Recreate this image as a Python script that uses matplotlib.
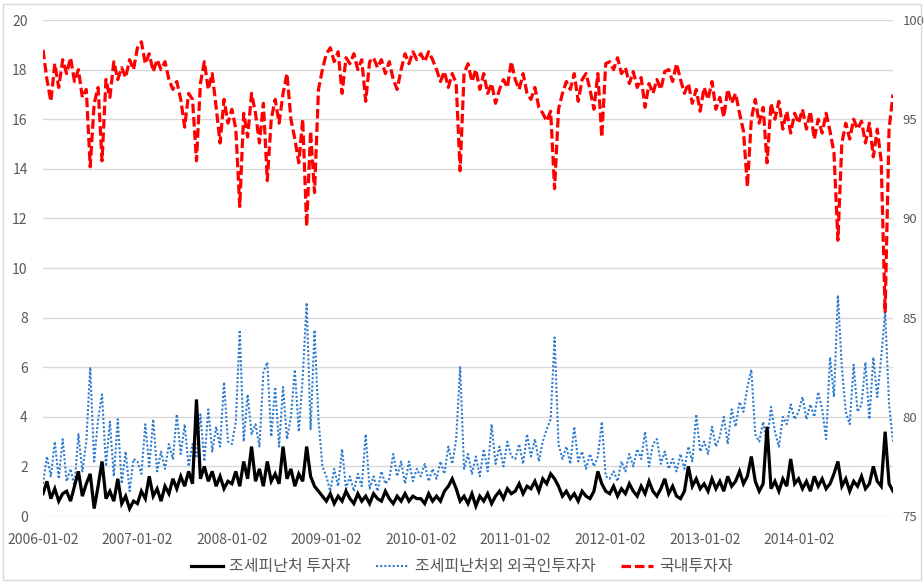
import pandas as pd
import matplotlib
matplotlib.use("Agg")
import matplotlib.pyplot as plt
import matplotlib.dates as mdates
from matplotlib.lines import Line2D
from matplotlib.patches import Rectangle

plt.rcParams['font.family'] = ['Noto Sans CJK KR', 'DejaVu Sans']

# semi-monthly readings, 2006-01-02 .. 2014-12-30 (24 per year, 25 in 2014)
dates = pd.date_range('2006-01-02', '2014-12-30', periods=217)

labels = ['조세피난처 투자자', '조세피난처외 외국인투자자', '국내투자자']

# 조세피난처 투자자 (left axis)
haven = [
    0.9, 1.4, 0.7, 1.1, 0.6, 0.9, 1.0, 0.6, 1.2, 1.8, 0.8, 1.3, 1.7, 0.3, 1.2, 2.2, 0.7, 1.0, 0.6, 1.5, 0.5, 0.8, 0.3, 0.6,
    0.5, 1.0, 0.7, 1.6, 0.8, 1.1, 0.6, 1.2, 0.9, 1.5, 1.1, 1.6, 1.2, 1.8, 1.3, 4.7, 1.5, 2.0, 1.4, 1.8, 1.2, 1.6, 1.1, 1.4,
    1.3, 1.8, 1.2, 2.2, 1.5, 2.8, 1.4, 1.9, 1.2, 2.2, 1.4, 1.7, 1.3, 2.8, 1.5, 1.9, 1.2, 1.7, 1.4, 2.8, 1.6, 1.2, 1.0, 0.8,
    0.6, 0.9, 0.5, 0.8, 0.6, 1.0, 0.7, 0.5, 0.9, 0.6, 0.8, 0.5, 0.9, 0.7, 0.6, 1.0, 0.7, 0.5, 0.8, 0.6, 0.9, 0.6, 0.8, 0.7,
    0.7, 0.5, 0.9, 0.6, 0.8, 0.6, 1.0, 1.2, 1.5, 1.1, 0.6, 0.8, 0.5, 0.9, 0.4, 0.8, 0.6, 0.9, 0.5, 0.8, 1.0, 0.7, 1.1, 0.9,
    1.0, 1.3, 0.9, 1.2, 1.1, 1.4, 1.0, 1.5, 1.3, 1.7, 1.5, 1.2, 0.8, 1.0, 0.7, 0.9, 0.6, 1.0, 0.8, 0.7, 1.0, 1.8, 1.3, 1.0,
    0.9, 1.2, 0.8, 1.1, 0.9, 1.3, 1.0, 0.8, 1.2, 0.9, 1.4, 1.0, 0.8, 1.1, 1.5, 0.9, 1.2, 0.8, 0.7, 1.0, 2.0, 1.2, 1.5, 1.1,
    1.3, 1.0, 1.5, 1.1, 1.4, 1.0, 1.6, 1.2, 1.4, 1.8, 1.3, 1.6, 2.4, 1.4, 1.0, 1.3, 3.6, 1.1, 1.4, 1.0, 1.5, 1.2, 2.3, 1.3,
    1.5, 1.1, 1.4, 1.0, 1.6, 1.2, 1.5, 1.1, 1.3, 1.7, 2.2, 1.2, 1.5, 1.0, 1.4, 1.2, 1.6, 1.1, 1.3, 2.0, 1.4, 1.2, 3.4, 1.3, 1.0,
]

# 조세피난처외 외국인투자자 (left axis)
foreign = [
    1.3, 2.4, 1.6, 3.0, 1.5, 3.1, 1.4, 1.9, 1.2, 3.3, 1.8, 3.0, 6.0, 2.2, 3.9, 4.9, 2.0, 3.8, 1.6, 3.9, 1.3, 2.6, 1.0, 2.3,
    2.2, 1.7, 3.7, 2.0, 3.9, 1.8, 2.6, 1.9, 2.9, 2.3, 4.1, 2.5, 3.7, 2.0, 2.9, 2.4, 4.1, 2.2, 4.3, 2.6, 3.6, 2.8, 5.4, 3.0,
    2.9, 3.8, 7.5, 3.0, 4.9, 3.3, 3.7, 2.8, 5.8, 6.2, 3.2, 5.2, 2.8, 5.2, 3.1, 4.0, 5.9, 3.4, 5.6, 8.6, 3.5, 7.5, 3.9, 2.0,
    1.6, 1.0, 1.9, 1.2, 2.7, 1.1, 1.6, 1.0, 1.7, 1.2, 3.3, 1.1, 1.6, 1.0, 1.8, 1.3, 1.5, 2.5, 1.6, 2.2, 1.3, 2.2, 1.4, 1.9,
    1.6, 2.1, 1.4, 1.9, 1.5, 2.2, 1.7, 2.8, 2.1, 3.1, 6.0, 1.9, 2.5, 1.7, 2.4, 1.6, 2.7, 1.8, 3.7, 2.1, 2.8, 2.0, 3.0, 2.4,
    2.3, 2.9, 2.1, 3.3, 2.4, 3.1, 2.2, 3.0, 3.5, 3.9, 7.2, 2.9, 2.3, 2.8, 2.1, 3.6, 2.2, 2.6, 1.9, 2.5, 2.0, 2.4, 3.8, 1.6,
    1.5, 1.8, 1.4, 2.2, 1.8, 2.5, 2.0, 2.7, 2.3, 3.4, 2.0, 2.9, 3.1, 2.1, 2.6, 1.9, 2.3, 1.8, 2.5, 1.9, 2.8, 2.2, 4.1, 2.6,
    3.0, 2.5, 3.6, 2.8, 3.2, 4.0, 2.9, 4.3, 3.6, 4.6, 4.2, 5.2, 5.9, 3.3, 3.0, 3.8, 2.9, 4.4, 3.4, 2.8, 4.0, 3.7, 4.5, 3.9,
    4.2, 4.8, 3.9, 4.5, 4.0, 5.0, 4.3, 3.1, 6.4, 4.8, 8.9, 6.0, 4.2, 3.7, 6.1, 4.2, 4.5, 6.2, 3.9, 6.4, 4.8, 6.4, 8.2, 4.5, 3.0,
]

# 국내투자자 (right axis)
domestic = [
    98.5, 97.0, 95.9, 97.8, 96.6, 98.0, 97.3, 98.1, 96.9, 97.5, 96.1, 96.5, 92.6, 95.8, 96.6, 92.9, 97.0, 96.1, 97.9, 97.0, 97.6, 97.1, 98.0, 97.5,
    98.6, 98.9, 97.8, 98.3, 97.4, 98.0, 97.5, 97.9, 97.0, 96.5, 96.9, 96.0, 94.6, 96.3, 96.0, 92.9, 96.8, 97.9, 96.5, 97.3, 95.6, 93.8, 96.0, 94.8,
    95.5, 94.5, 90.6, 95.3, 94.1, 96.3, 95.3, 93.8, 95.8, 91.9, 95.0, 96.0, 94.8, 96.3, 97.3, 95.0, 94.0, 92.8, 95.0, 89.6, 94.4, 91.3, 96.5, 97.5,
    98.3, 98.6, 97.9, 98.4, 96.3, 98.1, 97.8, 98.3, 97.5, 98.0, 95.9, 97.9, 98.1, 97.6, 98.0, 97.3, 97.9, 97.0, 96.5, 97.5, 98.3, 97.8, 98.4, 98.0,
    98.3, 97.9, 98.4, 98.0, 97.5, 96.9, 97.4, 96.6, 97.3, 96.8, 92.4, 97.3, 97.8, 96.9, 97.5, 96.5, 97.3, 96.3, 96.8, 95.8, 96.5, 97.0, 96.6, 97.9,
    97.0, 96.5, 97.3, 96.3, 96.0, 96.6, 95.6, 95.3, 94.9, 95.4, 91.5, 95.5, 96.3, 96.9, 96.5, 97.3, 95.9, 97.0, 97.3, 96.5, 95.5, 97.3, 94.1, 97.8,
    97.9, 97.5, 98.1, 97.3, 97.6, 96.8, 97.4, 96.6, 97.1, 95.6, 96.8, 96.3, 97.0, 96.5, 97.4, 97.5, 96.9, 97.8, 97.0, 96.3, 96.8, 95.8, 96.5, 95.4,
    96.6, 96.0, 96.9, 95.5, 96.1, 95.1, 96.5, 95.8, 96.3, 95.3, 94.4, 91.6, 95.0, 96.0, 94.8, 95.6, 92.8, 95.8, 95.0, 95.9, 94.5, 95.4, 94.3, 95.3,
    94.8, 95.5, 94.5, 95.4, 94.0, 95.0, 94.3, 95.3, 94.4, 93.3, 88.9, 93.8, 94.8, 94.0, 95.0, 94.5, 94.9, 93.8, 94.8, 93.1, 94.5, 92.9, 85.25, 94.5, 96.25,
]

tick_dates = pd.to_datetime(['%d-01-02' % y for y in range(2006, 2015)])

grey = '#595959'
blue = '#2e7bcf'

fig = plt.figure(figsize=(9.24, 5.84), dpi=100)
ax = fig.add_axes([43 / 924, 68 / 584, 850 / 924, 496 / 584])
ax2 = ax.twinx()

ax.plot(dates, haven, color='black', lw=2.3, solid_joinstyle='miter', zorder=3)
ax.plot(dates, foreign, color=blue, lw=1.5, linestyle=(0, (1, 1.0)), zorder=2)
ax2.plot(dates, domestic, color='red', lw=2.3, linestyle=(0, (3, 1.2)), zorder=3)

ax.set_ylim(0, 20)
ax.set_yticks(range(0, 21, 2))
ax2.set_ylim(75, 100)
ax2.set_yticks(range(75, 101, 5))
ax.set_xlim(dates[0], dates[-1])
ax.set_xticks(tick_dates)
ax.xaxis.set_major_formatter(mdates.DateFormatter('%Y-%m-%d'))

ax.grid(axis='y', color='#d9d9d9', lw=1)
ax.set_axisbelow(True)
for a in (ax, ax2):
    for s in a.spines.values():
        s.set_visible(False)
    a.tick_params(length=0, colors=grey, labelsize=10)
ax.tick_params(axis='y', pad=11)
ax.tick_params(axis='x', pad=12)
ax2.tick_params(axis='y', pad=7, labelsize=9.5)
ax2.patch.set_visible(False)

# outer chart border
fig.patches.append(Rectangle((3 / 924, 4 / 584), 918 / 924, 576 / 584, transform=fig.transFigure,
                             fill=False, edgecolor='#d9d9d9', lw=1))

handles = [Line2D([], [], color='black', lw=2.3),
           Line2D([], [], color=blue, lw=1.5, linestyle=(0, (1, 1.0))),
           Line2D([], [], color='red', lw=2.3, linestyle=(0, (3, 1.2)))]
fig.legend(handles, labels, loc='center', bbox_to_anchor=(0.5, 1 - 567 / 584), ncol=3,
           frameon=False, fontsize=11.5, handlelength=2.0, handletextpad=0.4, columnspacing=1.6,
           labelcolor=grey)

fig.savefig('out.png', dpi=100)
